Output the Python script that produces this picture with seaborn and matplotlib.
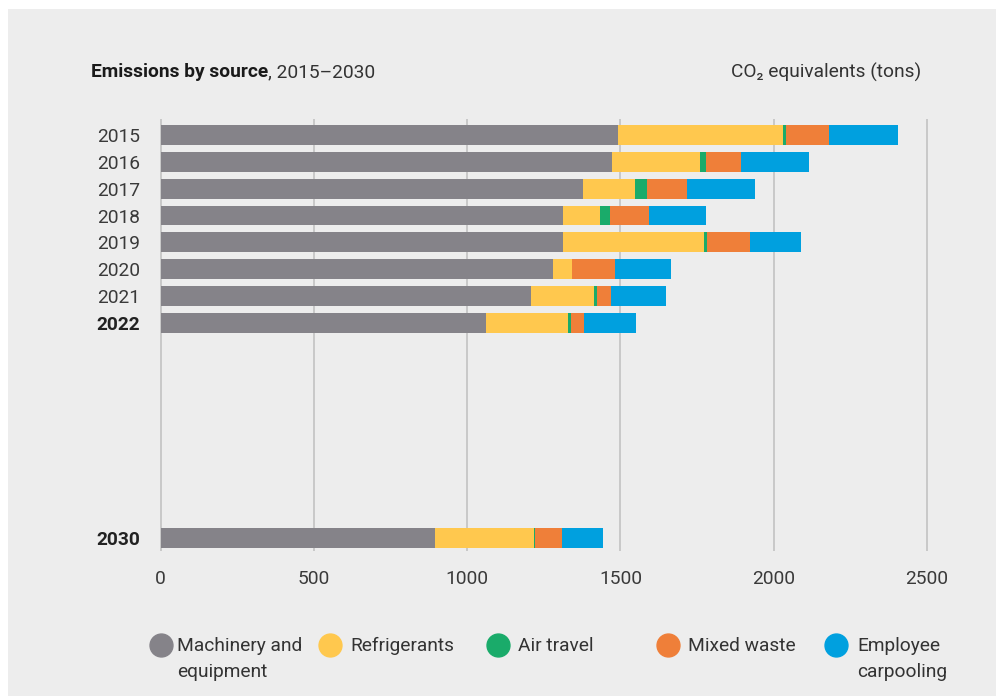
import matplotlib
matplotlib.use("Agg")
import matplotlib.pyplot as plt
from matplotlib.patches import Rectangle
from matplotlib.lines import Line2D
import numpy as np
import pandas as pd
import seaborn as sns

# Emissions by source (CO2 equivalents, tons)
years = [2015, 2016, 2017, 2018, 2019, 2020, 2021, 2022, 2030]
machinery = [1492, 1472, 1378, 1312, 1312, 1280, 1208, 1062, 895]
refrigerants = [538, 287, 169, 121, 460, 62, 205, 267, 323]
air_travel = [10, 20, 39, 33, 10, 0, 10, 10, 5]
mixed_waste = [140, 114, 131, 127, 140, 140, 46, 41, 86]
carpooling = [225, 222, 221, 186, 166, 182, 179, 170, 133]

sources = ["Machinery and\nequipment", "Refrigerants", "Air travel",
           "Mixed waste", "Employee\ncarpooling"]
colors = ["#858389", "#FFC84E", "#1AAB6A", "#EF7F39", "#00A0DF"]
bold_years = [2022, 2030]
x_ticks = [0, 500, 1000, 1500, 2000, 2500]

sns.set_theme(style="white")
FONT = ["Roboto", "DejaVu Sans"]
plt.rcParams["font.family"] = FONT
FS = 13.8

BG = "#EDEDED"
fig = plt.figure(figsize=(9.96, 6.97), dpi=100, facecolor="white")
W, H = 996, 697
fig.add_artist(Rectangle((8 / W, 1 - 696 / H), (W - 8) / W, (696 - 9) / H,
                         transform=fig.transFigure, facecolor=BG,
                         edgecolor="none", zorder=-10))

# axes placement in pixels
x0_px, x1_px = 159.0, 930.0
y_top_px, y_bot_px = 119.0, 551.0
ax = fig.add_axes([x0_px / W, 1 - y_bot_px / H, (x1_px - x0_px) / W,
                   (y_bot_px - y_top_px) / H])
ax.set_facecolor("none")

df = pd.DataFrame({"year": years})
series = [machinery, refrigerants, air_travel, mixed_waste, carpooling]
cum = np.cumsum(np.array(series), axis=0)

# stacked bars: draw cumulative totals from the outermost layer inward
for i in range(len(series) - 1, -1, -1):
    df["total"] = cum[i]
    sns.barplot(data=df, x="total", y="year", orient="h", native_scale=True,
                color=colors[i], width=0.74, linewidth=0, saturation=1,
                ax=ax, zorder=3)

px_per_unit = (927 - 160.5) / 2500
ax.set_xlim(-(160.5 - x0_px) / px_per_unit, (x1_px - 160.5) / px_per_unit)
ax.set_ylim(2030.48, 2014.41)

ax.set_xticks(x_ticks)
ax.set_xticklabels([str(t) for t in x_ticks])
ax.set_yticks(years)
ax.set_yticklabels([str(y) for y in years])
for lbl, y in zip(ax.get_yticklabels(), years):
    lbl.set_fontweight("bold" if y in bold_years else "normal")
    lbl.set_color("#222222" if y in bold_years else "#3a3a3a")
ax.tick_params(axis="y", length=0, pad=13.5, labelsize=FS)
ax.tick_params(axis="x", length=0, pad=14, labelsize=FS, labelcolor="#3a3a3a")
ax.set_xlabel("")
ax.set_ylabel("")
for s in ax.spines.values():
    s.set_visible(False)
ax.xaxis.grid(True, color="#C8C8C8", linewidth=1.4, zorder=0)
ax.yaxis.grid(False)
ax.set_axisbelow(True)

# header
t1 = fig.text(91 / W, 1 - 72 / H, "Emissions by source", fontsize=FS,
              fontweight="bold", color="#1a1a1a", va="center", ha="left")
fig.canvas.draw()
bb = t1.get_window_extent()
fig.text(bb.x1 / W, 1 - 72 / H, ", 2015\u20132030", fontsize=FS,
         color="#333333", va="center", ha="left")
fig.text(921 / W, 1 - 72 / H, "CO\u2082 equivalents (tons)", fontsize=FS,
         color="#333333", va="center", ha="right")

# legend
leg_marker_x = [161, 330, 498, 668, 836]
leg_text_x = [177, 350, 518, 688, 857]
leg_y = 645
for mx, tx, lab, c in zip(leg_marker_x, leg_text_x, sources, colors):
    fig.add_artist(Line2D([mx / W], [1 - leg_y / H], marker="o",
                          markersize=16.5, color=c, linestyle="none",
                          transform=fig.transFigure))
    fig.text(tx / W, 1 - (leg_y - 8) / H, lab, fontsize=FS, color="#333333",
             va="top", ha="left", linespacing=1.6)

fig.savefig("out.png", dpi=100, facecolor="white")
